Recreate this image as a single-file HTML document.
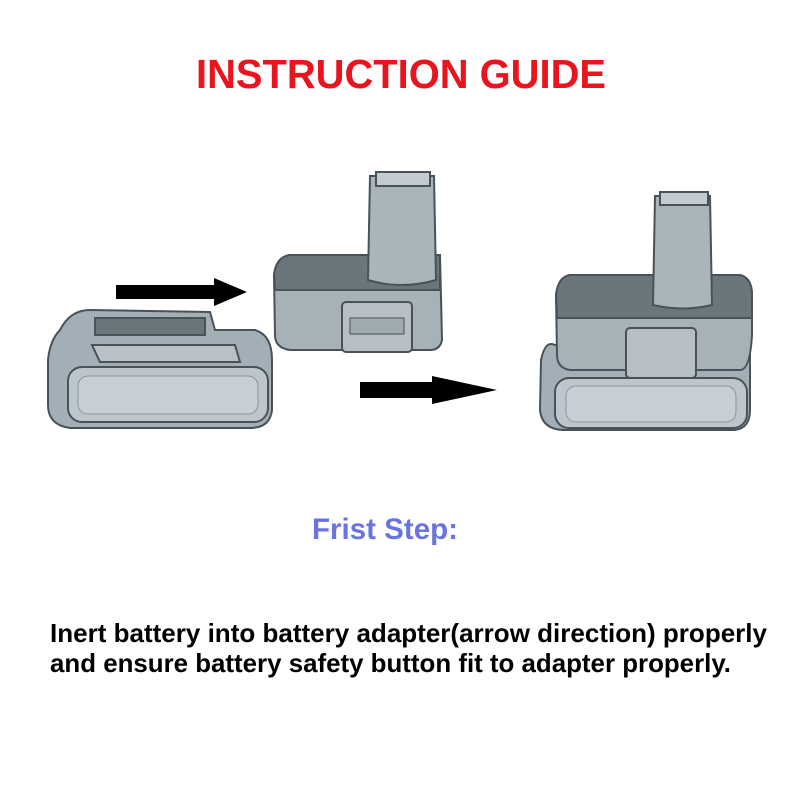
<!DOCTYPE html>
<html><head><meta charset="utf-8"><style>html,body{margin:0;padding:0;background:#fff}svg{display:block}</style></head>
<body>
<svg width="800" height="800" viewBox="0 0 800 800" xmlns="http://www.w3.org/2000/svg" font-family="Liberation Sans, Arial, sans-serif" font-weight="bold">
<rect width="800" height="800" fill="#fff"/>
<text x="401" y="88" text-anchor="middle" font-size="41" fill="#e8141e" textLength="410" lengthAdjust="spacingAndGlyphs">INSTRUCTION GUIDE</text>

<!-- Left battery -->
<g stroke="#4a5258" stroke-width="2">
<path d="M60 330 Q70 310 90 310 L210 312 L215 330 L255 330 Q272 335 272 360 L272 410 Q270 428 250 428 L70 428 Q48 425 48 405 L48 360 Q50 340 60 330Z" fill="#a3afb6"/>
<path d="M95 318 L205 318 L205 335 L95 335Z" fill="#6a757c"/>
<path d="M92 345 L235 345 L240 362 L100 362Z" fill="#b7c1c7"/>
<rect x="68" y="367" width="200" height="55" rx="14" fill="#bcc6cc"/>
<rect x="78" y="376" width="180" height="38" rx="10" fill="#c6cfd4" stroke="#8a959c" stroke-width="1"/>
</g>

<!-- Middle adapter -->
<g stroke="#4a5258" stroke-width="2">
<path d="M290 255 L440 255 L442 340 Q440 350 430 350 L290 350 Q275 348 275 335 L274 275 Q276 257 290 255Z" fill="#a7b2b8"/>
<path d="M290 255 L440 255 L440 290 L275 290 L274 275 Q276 257 290 255Z" fill="#6a757c"/>
<rect x="342" y="302" width="70" height="50" rx="4" fill="#b5bfc5"/>
<rect x="350" y="318" width="54" height="16" fill="#a0abb1" stroke-width="1"/>
<path d="M370 176 L434 176 L436 280 Q402 290 368 280Z" fill="#aab5bb"/>
<path d="M376 172 L430 172 L430 186 L376 186Z" fill="#c3ccd1"/>
</g>

<!-- Right assembled -->
<g stroke="#4a5258" stroke-width="2">
<path d="M555 345 Q545 340 541 360 L540 410 Q542 430 565 430 L735 430 Q750 428 750 410 L750 345Z" fill="#a3afb6"/>
<rect x="555" y="378" width="192" height="50" rx="14" fill="#bcc6cc"/>
<rect x="566" y="386" width="170" height="36" rx="10" fill="#c6cfd4" stroke="#8a959c" stroke-width="1"/>
<path d="M570 275 L740 275 Q752 278 752 295 L752 335 Q750 370 740 370 L570 370 Q557 368 557 355 L556 295 Q558 277 570 275Z" fill="#a7b2b8"/>
<path d="M570 275 L740 275 Q752 278 752 295 L752 318 L557 318 L556 295 Q558 277 570 275Z" fill="#6a757c"/>
<rect x="626" y="328" width="70" height="50" rx="4" fill="#b5bfc5"/>
<path d="M655 196 L710 196 L712 305 Q683 312 653 305Z" fill="#aab5bb"/>
<path d="M660 192 L708 192 L708 205 L660 205Z" fill="#c3ccd1"/>
</g>

<!-- Arrows -->
<path d="M116 285 L214 285 L214 278 L247 292 L214 306 L214 299 L116 299Z" fill="#000"/>
<path d="M360 382 L432 382 L432 376 L497 390 L432 404 L432 398 L360 398Z" fill="#000"/>

<text x="385" y="539" text-anchor="middle" font-size="30" fill="#6a74e0" textLength="146" lengthAdjust="spacingAndGlyphs">Frist Step:</text>
<text x="50" y="642" font-size="26" fill="#000" textLength="717" lengthAdjust="spacingAndGlyphs">Inert battery into battery adapter(arrow direction) properly</text>
<text x="50" y="672" font-size="26" fill="#000" textLength="681" lengthAdjust="spacingAndGlyphs">and ensure battery safety button fit to adapter properly.</text>
</svg>
</body></html>
